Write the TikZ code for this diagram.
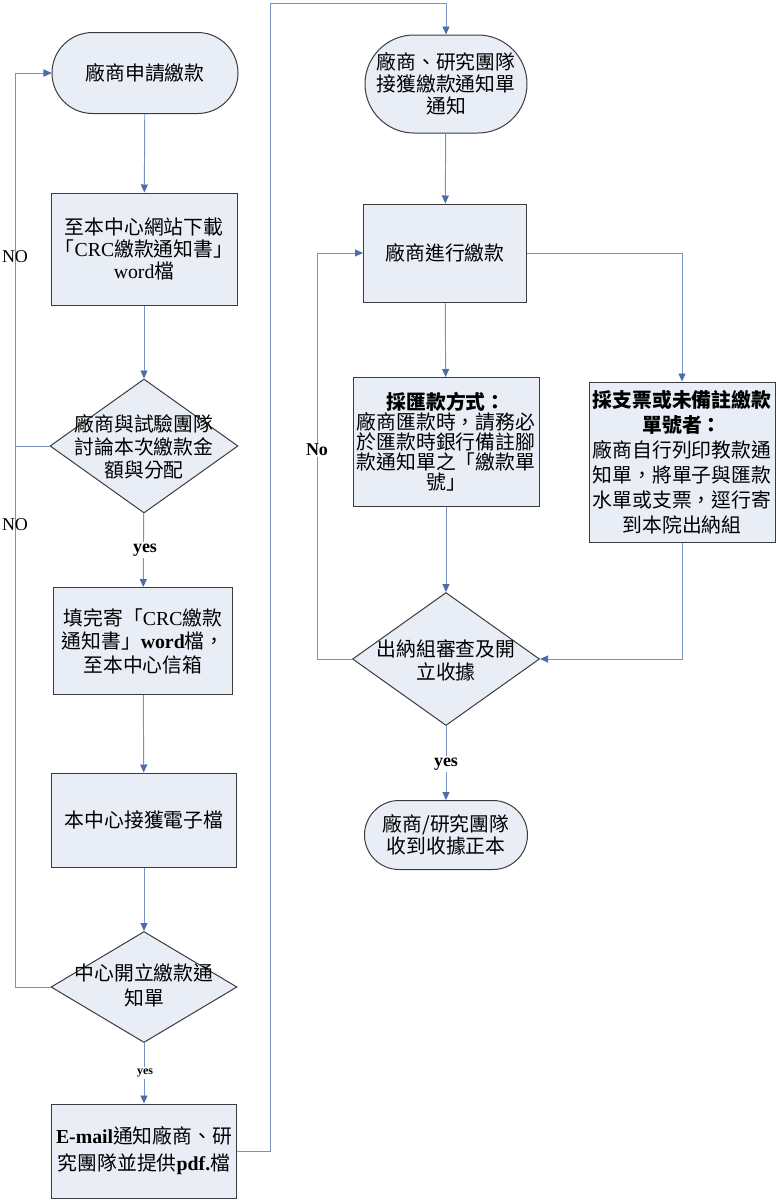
\documentclass[tikz,border=0pt]{standalone}
\usepackage{fontspec}
\setmainfont{Liberation Serif}
\newfontfamily\zh{Noto Sans CJK TC}
\usetikzlibrary{arrows.meta,shapes.geometric,shapes.misc}
\definecolor{boxfill}{RGB}{232,237,246}
\definecolor{boxline}{RGB}{60,60,60}
\definecolor{conn}{RGB}{120,148,190}
\definecolor{tip}{RGB}{75,110,170}
\newcommand\lat[1]{{\rmfamily #1}}
\begin{document}
\begin{tikzpicture}[x=1pt,y=-1pt,
  base/.style={draw=boxline, fill=boxfill, line width=1pt, inner sep=0pt,
    font=\zh\fontsize{19.8}{22}\selectfont, align=center, text=black},
  proc/.style={base, rectangle},
  term/.style={base, rounded rectangle},
  dec/.style={base, diamond},
  dtext/.style={font=\zh\fontsize{19.8}{23}\selectfont, align=center, inner sep=0pt},
  flow/.style={draw=conn, line width=0.95pt, -{Triangle[length=8pt,width=7pt,color=tip]}},
  lbl/.style={fill=white, inner sep=1.5pt, font=\rmfamily\bfseries\fontsize{18}{18}\selectfont},
  nolbl/.style={inner sep=0pt, font=\rmfamily\fontsize{18}{18}\selectfont}
]
\useasboundingbox[fill=white] (0,0) rectangle (776,1200);

% left column
\node[term, minimum width=186pt, minimum height=81pt] (s1) at (145,73) {廠商申請繳款};
\node[proc, minimum width=186pt, minimum height=112pt] (b1) at (144,249)
  {至本中心網站下載\\「\lat{CRC}繳款通知書」\\\lat{word}檔};
\node[dec, minimum width=188pt, minimum height=134pt] (d1) at (144,446) {};
\node[dtext] (d1t) at (144,447) {廠商與試驗團隊\\討論本次繳款金\\額與分配};
\node[proc, minimum width=179pt, minimum height=107pt, font=\zh\fontsize{19.8}{23.5}\selectfont] (b2) at (143,641)
  {填完寄「\lat{CRC}繳款\\通知書」\lat{\bfseries word}檔，\\至本中心信箱};
\node[proc, minimum width=185pt, minimum height=94pt] (b3) at (144,820) {本中心接獲電子檔};
\node[dec, minimum width=186pt, minimum height=111pt] (d2) at (144,987) {};
\node[dtext, font=\zh\fontsize{19.8}{25}\selectfont] (d2t) at (144,985) {中心開立繳款通\\知單};
\node[proc, minimum width=185pt, minimum height=94pt, font=\zh\fontsize{19.8}{27}\selectfont] (b4) at (144,1151)
  {\lat{\bfseries E-mail}通知廠商、研\\究團隊並提供\lat{\bfseries pdf.}檔};

% right column
\node[term, minimum width=162pt, minimum height=98pt] (s2) at (446,84)
  {廠商、研究團隊\\接獲繳款通知單\\通知};
\node[proc, minimum width=163pt, minimum height=98pt] (b5) at (445,253) {廠商進行繳款};
\node[proc, minimum width=186pt, minimum height=129pt, font=\zh\fontsize{19.8}{20}\selectfont] (b6) at (446,442)
  {{\bfseries 採匯款方式：}\\廠商匯款時，請務必\\於匯款時銀行備註腳\\款通知單之「繳款單\\號」};
\node[proc, minimum width=186pt, minimum height=160pt, font=\zh\fontsize{19.8}{25}\selectfont] (b7) at (682,462)
  {{\bfseries 採支票或未備註繳款}\\{\bfseries 單號者：}\\廠商自行列印教款通\\知單，將單子與匯款\\水單或支票，逕行寄\\到本院出納組};
\node[dec, minimum width=187pt, minimum height=133pt] (d3) at (446,659) {};
\node[dtext] (d3t) at (446,660) {出納組審查及開\\立收據};
\node[term, minimum width=163pt, minimum height=69pt] (s3) at (446,835)
  {廠商/研究團隊\\收到收據正本};

% helper coordinates
\coordinate (cl) at (15,0);
\coordinate (ctop) at (270,3);
\coordinate (cr) at (317,0);

% connectors, left column
\draw[flow] (s1) -- (b1);
\draw[flow] (b1) -- (d1);
\draw[flow] (d1) -- (b2);
\draw[flow] (b2) -- (b3);
\draw[flow] (b3) -- (d2);
\draw[flow] (d2) -- (b4);
\draw[flow] (d1.west) -- (d1.west -| cl) |- (s1.west);
\draw[flow] (d2.west) -- (d2.west -| cl) |- (s1.west);
\draw[flow] (b4.east) -| (ctop) -| (s2.north);

% connectors, right column
\draw[flow] (s2) -- (b5);
\draw[flow] (b5) -- (b6);
\draw[flow] (b5.east) -| (b7.north);
\draw[flow] (b6) -- (d3);
\draw[flow] (b7.south) |- (d3.east);
\draw[flow] (d3.west) -- (d3.west -| cr) |- (b5.west);
\draw[flow] (d3) -- (s3);

% labels
\node[nolbl] (no1) at (15,257) {NO};
\node[nolbl] (no2) at (15,525) {NO};
\node[lbl] (yes1) at (145,550) {yes};
\node[lbl, font=\rmfamily\bfseries\fontsize{12}{12}\selectfont] (yes2) at (145,1073) {yes};
\node[lbl] (no3) at (317,450) {No};
\node[lbl] (yes3) at (446,764) {yes};
\end{tikzpicture}
\end{document}
